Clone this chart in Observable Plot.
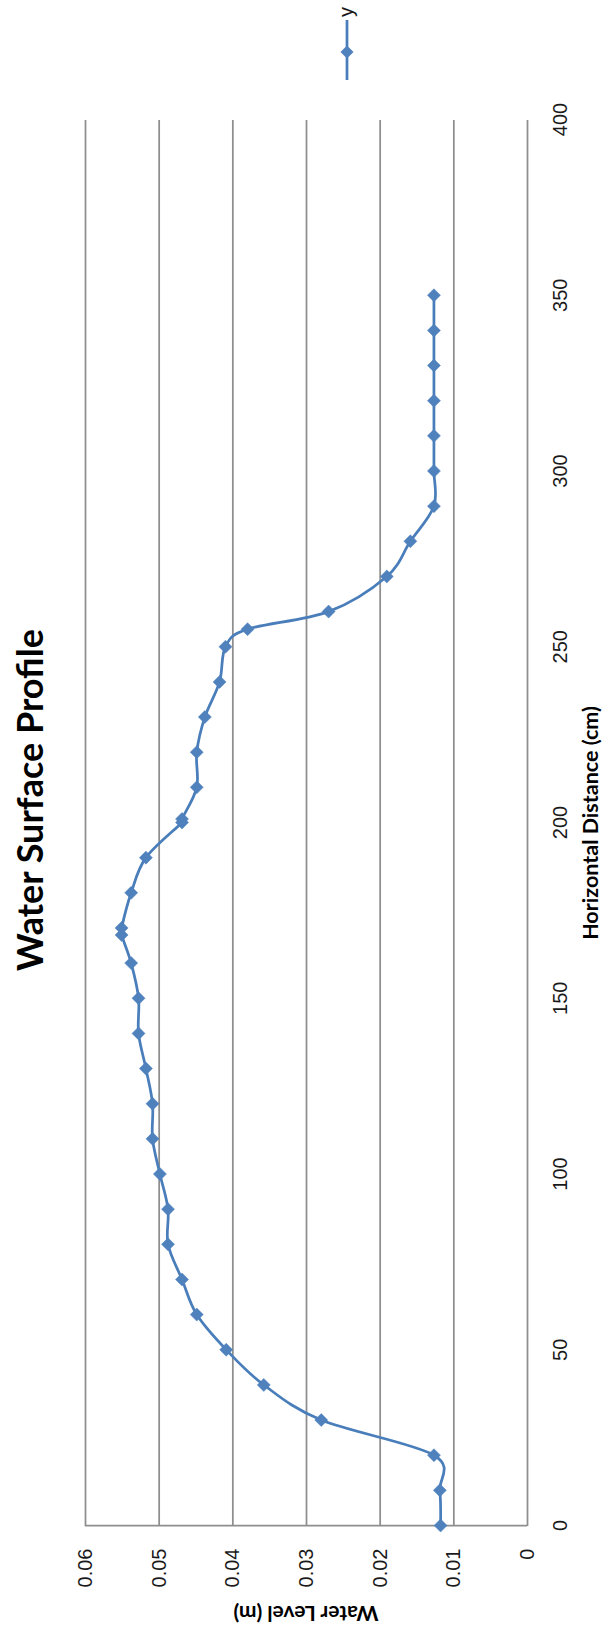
<!DOCTYPE html>
<html>
<head>
<meta charset="utf-8">
<script src="https://cdn.jsdelivr.net/npm/d3@7"></script>
<script src="https://cdn.jsdelivr.net/npm/@observablehq/plot@0.6"></script>
<style>
  html, body { margin: 0; padding: 0; background: #fff; overflow: hidden; }
  /* The chart is laid out landscape (1631 x 613) and turned a quarter turn counterclockwise. */
  #wrap {
    position: absolute; left: 0; top: 0;
    width: 1631px; height: 613px;
    transform-origin: 0 0;
    transform: translate(0, 1631px) rotate(-90deg);
    background: #fff;
  }
  #wrap svg { position: absolute; left: 0; top: 0; }
</style>
</head>
<body>
<div id="wrap"></div>
<script>
// Measured water surface profile along the flume
const distance = [0, 10, 20, 30, 40, 50, 60, 70, 80, 90, 100, 110, 120, 130, 140, 150, 160, 168, 170, 180,
                  190, 200, 201, 210, 220, 230, 240, 250, 255, 260, 270, 280, 290, 300, 310, 320, 330, 340, 350];
const level = [0.0118, 0.0119, 0.0127, 0.0280, 0.0358, 0.0409, 0.0449, 0.0469, 0.0488, 0.0488,
               0.0499, 0.0509, 0.0509, 0.0518, 0.0528, 0.0528, 0.0538, 0.0551, 0.0551, 0.0538,
               0.0518, 0.0469, 0.0469, 0.0449, 0.0449, 0.0438, 0.0418, 0.0410, 0.0380, 0.0270,
               0.0191, 0.0159, 0.0127, 0.0127, 0.0127, 0.0127, 0.0127, 0.0127, 0.0127];

const xTicks = [0, 50, 100, 150, 200, 250, 300, 350, 400];
const yTicks = [0, 0.01, 0.02, 0.03, 0.04, 0.05, 0.06];
const yTickLabels = ["0", "0.01", "0.02", "0.03", "0.04", "0.05", "0.06"];

const seriesName = "y";
const chartTitle = "Water Surface Profile";
const xTitle = "Horizontal Distance (cm)";
const yTitle = "Water Level (m)";

const W = 1631, H = 613;
const M = {left: 105, right: 120, top: 85, bottom: 86};
const lineColor = "#4a7ebb";
const markerColor = "#4f81bd";
const gridColor = "#8e8e8e";

const rows = distance.map((d, i) => ({distance: d, level: level[i]}));

// Square diamond marker (half-diagonal derived from the symbol area)
const squareDiamond = {
  draw(context, size) {
    const h = Math.sqrt(size / 2);
    context.moveTo(0, -h);
    context.lineTo(h, 0);
    context.lineTo(0, h);
    context.lineTo(-h, 0);
    context.closePath();
  }
};

const chart = Plot.plot({
  width: W,
  height: H,
  marginLeft: M.left,
  marginRight: M.right,
  marginTop: M.top,
  marginBottom: M.bottom,
  style: {fontFamily: "'Liberation Sans', Arial, sans-serif", fontSize: "20px", color: "#1a1a1a", background: "#fff", overflow: "visible"},
  x: {domain: [0, 400]},
  y: {domain: [0, 0.06]},
  marks: [
    Plot.ruleY(yTicks, {stroke: gridColor, strokeWidth: 1.75}),
    Plot.ruleX([0], {stroke: gridColor, strokeWidth: 1.75}),
    Plot.line(rows, {x: "distance", y: "level", stroke: lineColor, strokeWidth: 2.75, curve: "cardinal"}),
    Plot.dot(rows, {x: "distance", y: "level", symbol: squareDiamond, r: 5.2, fill: markerColor, stroke: markerColor, strokeWidth: 0.5}),
    Plot.axisX({ticks: xTicks, tickSize: 0, tickPadding: 25, label: null, tickFormat: d => String(d)}),
    Plot.axisY({ticks: yTicks, tickSize: 0, tickPadding: 23, label: null,
                tickFormat: d => yTickLabels[yTicks.indexOf(d)]})
  ]
});

const wrap = document.getElementById("wrap");
wrap.appendChild(chart);

// Titles and legend
const overlay = d3.select(wrap).append("svg")
  .attr("width", W).attr("height", H)
  .style("pointer-events", "none");

overlay.append("text")
  .attr("x", 831).attr("y", 43)
  .attr("text-anchor", "middle")
  .attr("font-family", "Lato, 'Open Sans', sans-serif")
  .attr("font-weight", 700)
  .attr("font-size", 36)
  .attr("fill", "#000")
  .text(chartTitle);

overlay.append("text")
  .attr("x", M.left + (W - M.left - M.right) / 2).attr("y", 598)
  .attr("text-anchor", "middle")
  .attr("font-family", "Lato, 'Open Sans', sans-serif")
  .attr("font-weight", 700)
  .attr("font-size", 21.5)
  .attr("fill", "#000")
  .text(xTitle);

overlay.append("text")
  .attr("transform", `translate(25,${M.top + (H - M.top - M.bottom) / 2}) rotate(-90)`)
  .attr("text-anchor", "middle")
  .attr("font-family", "Lato, 'Open Sans', sans-serif")
  .attr("font-weight", 700)
  .attr("font-size", 21)
  .attr("fill", "#000")
  .text(yTitle);

const legend = overlay.append("g").attr("transform", "translate(1551,347)");
legend.append("line")
  .attr("x1", 0).attr("x2", 60).attr("y1", 0).attr("y2", 0)
  .attr("stroke", lineColor).attr("stroke-width", 2.75);
legend.append("path")
  .attr("transform", "translate(28,0)")
  .attr("d", "M0,-6.5L6.5,0L0,6.5L-6.5,0Z")
  .attr("fill", markerColor);
legend.append("text")
  .attr("x", 63).attr("y", 6)
  .attr("font-family", "'Liberation Sans', Arial, sans-serif")
  .attr("font-size", 20)
  .attr("fill", "#1a1a1a")
  .text(seriesName);
</script>
</body>
</html>
